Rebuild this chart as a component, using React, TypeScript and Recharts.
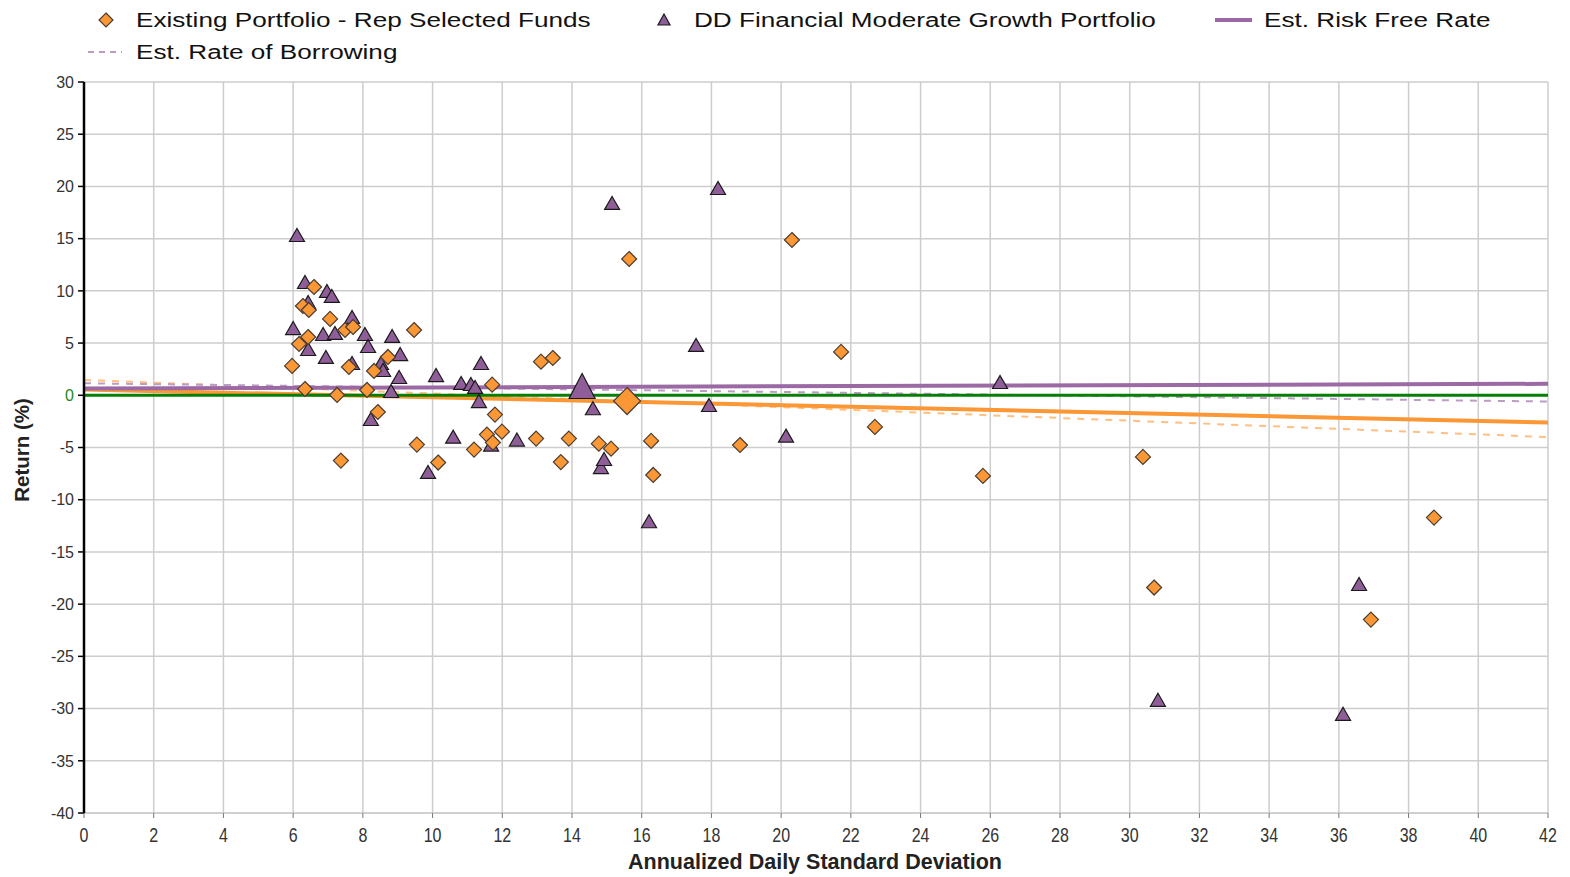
import React from 'react';
import { ScatterChart, Scatter, XAxis, YAxis, CartesianGrid, ReferenceLine } from 'recharts';

// Existing Portfolio - Rep Selected Funds: [std dev, return]
const existingFunds: [number, number][] = [
  [5.97, 2.81], [6.17, 4.91], [6.28, 8.55], [6.45, 8.17], [6.43, 5.58], [6.34, 0.6],
  [6.6, 10.37], [7.06, 7.31], [7.26, 0.03], [7.37, -6.25], [7.49, 6.25], [7.72, 6.54],
  [7.6, 2.71], [8.12, 0.51], [8.32, 2.33], [8.43, -1.6], [8.72, 3.67], [9.47, 6.25],
  [9.55, -4.72], [10.16, -6.44], [11.19, -5.2], [11.56, -3.76], [11.73, -4.53], [11.71, 1.02],
  [11.79, -1.85], [11.99, -3.48], [12.97, -4.15], [13.11, 3.22], [13.45, 3.57], [13.68, -6.4],
  [13.91, -4.15], [14.77, -4.63], [15.12, -5.11], [15.64, 13.05], [16.27, -4.37], [16.33, -7.63],
  [18.82, -4.76], [20.31, 14.87], [21.72, 4.15], [22.69, -3.03], [25.79, -7.72], [30.38, -5.9],
  [30.7, -18.41], [36.92, -21.48], [38.73, -11.71],
];
const existingTotal: [number, number][] = [[15.58, -0.55]];

// DD Financial Moderate Growth Portfolio
const ddFunds: [number, number][] = [
  [6.11, 15.35], [6.0, 6.44], [6.34, 10.85], [6.43, 8.93], [6.43, 4.43], [6.86, 5.87],
  [6.94, 3.67], [6.97, 9.99], [7.11, 9.51], [7.2, 5.97], [7.69, 7.5], [7.69, 3.09],
  [8.06, 5.87], [8.15, 4.72], [8.23, -2.27], [8.52, 3.09], [8.58, 2.42], [8.81, 0.41],
  [8.84, 5.68], [9.04, 1.75], [9.07, 3.95], [9.87, -7.34], [10.1, 1.94], [10.59, -3.96],
  [10.82, 1.18], [11.1, 1.08], [11.22, 0.8], [11.33, -0.55], [11.39, 3.09], [11.68, -4.72],
  [12.42, -4.24], [14.6, -1.24], [14.83, -6.87], [14.92, -6.1], [15.15, 18.42], [16.21, -12.06],
  [17.56, 4.82], [17.93, -0.93], [18.19, 19.85], [20.14, -3.86], [26.28, 1.27], [30.81, -29.16],
  [36.12, -30.5], [36.58, -18.07],
];
const ddTotal: [number, number][] = [[14.29, 0.89]];

// Lines: [x, y] endpoints
const riskFreeDD: [number, number][] = [[0, 0.65], [42, 1.1]];
const riskFreeExisting: [number, number][] = [[0, 0.55], [42, -2.6]];
const borrowingDD: [number, number][] = [[0, 1.15], [42, -0.6]];
const borrowingExisting: [number, number][] = [[0, 1.47], [42, -4.0]];

const xTicks = [0, 2, 4, 6, 8, 10, 12, 14, 16, 18, 20, 22, 24, 26, 28, 30, 32, 34, 36, 38, 40, 42];
const yTicks = [-40, -35, -30, -25, -20, -15, -10, -5, 0, 5, 10, 15, 20, 25, 30];

const ORANGE = '#fb9734';
const PURPLE = '#8f5e99';
const FONT = '"Liberation Sans", Arial, sans-serif';

const toPts = (arr: [number, number][]) => arr.map(([x, y]) => ({ x, y }));

const Diamond = (props: any) => {
  const { cx, cy } = props;
  if (cx == null || cy == null) return <g />;
  const r = props.r ?? 7.5;
  return (
    <path
      d={`M${cx},${cy - r} L${cx + r},${cy} L${cx},${cy + r} L${cx - r},${cy} Z`}
      fill={ORANGE}
      stroke="#4a3d33"
      strokeWidth={1.2}
    />
  );
};

const Triangle = (props: any) => {
  const { cx, cy } = props;
  if (cx == null || cy == null) return <g />;
  const w = props.w ?? 15;
  const h = props.h ?? 13;
  return (
    <path
      d={`M${cx},${cy - h / 2} L${cx + w / 2},${cy + h / 2} L${cx - w / 2},${cy + h / 2} Z`}
      fill={PURPLE}
      stroke="#1a1a1a"
      strokeWidth={1.2}
    />
  );
};

const YTick = (props: any) => {
  const { x, y, payload } = props;
  return (
    <text x={x} y={y} dy="0.36em" textAnchor="end" fontSize={16} fontFamily={FONT}
      fill={payload.value === 0 ? '#1a8a1a' : '#333'}>
      {payload.value}
    </text>
  );
};

const XTick = (props: any) => {
  const { x, payload } = props;
  return (
    <g transform={`translate(${x},842)`}>
      <text x={0} y={0} textAnchor="middle" fontSize={16} fontFamily={FONT} fill="#333" transform="scale(1,1.3)">
        {payload.value}
      </text>
    </g>
  );
};

const seg = (a: [number, number][]) => [{ x: a[0][0], y: a[0][1] }, { x: a[1][0], y: a[1][1] }];

const legendText: React.CSSProperties = {
  position: 'absolute',
  fontFamily: FONT,
  fontSize: 19.5,
  color: '#111',
  whiteSpace: 'nowrap',
  transform: 'scaleX(1.34)',
  transformOrigin: 'left center',
  lineHeight: '24px',
};

export default function App() {
  return (
    <div style={{ position: 'absolute', left: 0, top: 0, width: 1570, height: 877, background: '#fff', overflow: 'hidden' }}>
      <ScatterChart width={1570} height={877} margin={{ top: 82, right: 22, bottom: 24, left: 24 }}>
        <CartesianGrid stroke="#cdcdcd" strokeWidth={1.5} horizontalValues={yTicks} verticalValues={xTicks} />
        <XAxis
          type="number"
          dataKey="x"
          domain={[0, 42]}
          ticks={xTicks}
          interval={0}
          height={40}
          axisLine={{ stroke: '#cdcdcd', strokeWidth: 1.5 }}
          tickLine={{ stroke: '#777' }}
          tickSize={5}
          tick={<XTick />}
          allowDataOverflow
        />
        <YAxis
          type="number"
          dataKey="y"
          domain={[-40, 30]}
          ticks={yTicks}
          interval={0}
          width={60}
          axisLine={{ stroke: '#000', strokeWidth: 2.5 }}
          tickLine={{ stroke: '#000', strokeWidth: 1.5 }}
          tickSize={6}
          tickMargin={4}
          tick={<YTick />}
          allowDataOverflow
        />
        <ReferenceLine segment={seg(borrowingExisting)} stroke="#ffbf80" strokeWidth={2} strokeDasharray="7 7" />
        <ReferenceLine segment={seg(borrowingDD)} stroke="#bb9cc2" strokeWidth={2} strokeDasharray="7 7" />
        <ReferenceLine segment={seg(riskFreeExisting)} stroke={ORANGE} strokeWidth={4} />
        <ReferenceLine segment={seg(riskFreeDD)} stroke="#9b6aa5" strokeWidth={4} />
        <ReferenceLine y={0} stroke="#067f06" strokeWidth={3} />
        <Scatter name="DD Financial Moderate Growth Portfolio" data={toPts(ddFunds)} isAnimationActive={false}
          shape={(p: any) => <Triangle {...p} />} />
        <Scatter name="Existing Portfolio - Rep Selected Funds" data={toPts(existingFunds)} isAnimationActive={false}
          shape={(p: any) => <Diamond {...p} />} />
        <Scatter name="DD total" data={toPts(ddTotal)} isAnimationActive={false} legendType="none"
          shape={(p: any) => <Triangle {...p} w={26} h={25} />} />
        <Scatter name="Existing total" data={toPts(existingTotal)} isAnimationActive={false} legendType="none"
          shape={(p: any) => <Diamond {...p} r={13.5} />} />
      </ScatterChart>

      {/* Legend */}
      <svg style={{ position: 'absolute', left: 0, top: 0 }} width={1570} height={70}>
        <path d="M106,13 L113,20 L106,27 L99,20 Z" fill={ORANGE} stroke="#4a3d33" strokeWidth={1.2} />
        <path d="M664,14 L670,25 L658,25 Z" fill={PURPLE} stroke="#1a1a1a" strokeWidth={1.2} />
        <line x1={1215} y1={20} x2={1252} y2={20} stroke="#9b6aa5" strokeWidth={4} />
        <line x1={88} y1={52} x2={122} y2={52} stroke="#a77bb0" strokeWidth={1.5} strokeDasharray="6 5" />
      </svg>
      <div style={{ ...legendText, left: 136, top: 8 }}>Existing Portfolio - Rep Selected Funds</div>
      <div style={{ ...legendText, left: 694, top: 8 }}>DD Financial Moderate Growth Portfolio</div>
      <div style={{ ...legendText, left: 1264, top: 8 }}>Est. Risk Free Rate</div>
      <div style={{ ...legendText, left: 136, top: 40 }}>Est. Rate of Borrowing</div>

      {/* Axis titles */}
      <div style={{ position: 'absolute', left: 0, width: 1630, top: 850, textAlign: 'center', fontFamily: FONT, fontWeight: 'bold', fontSize: 21.5, color: '#222', lineHeight: '24px', whiteSpace: 'nowrap' }}>
        Annualized Daily Standard Deviation
      </div>
      <div style={{ position: 'absolute', left: 22, top: 450, transform: 'translate(-50%,-50%) rotate(-90deg)', fontFamily: FONT, fontWeight: 'bold', fontSize: 20.5, color: '#222', lineHeight: '24px', whiteSpace: 'nowrap' }}>
        Return (%)
      </div>
    </div>
  );
}
